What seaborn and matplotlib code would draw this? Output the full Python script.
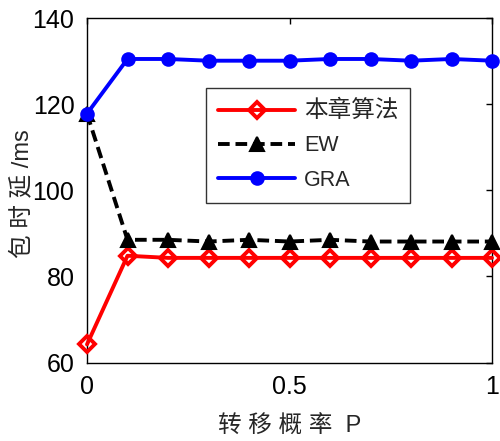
import matplotlib
matplotlib.use("Agg")
import matplotlib.pyplot as plt
import seaborn as sns
import pandas as pd

# Transfer probability P and packet delay (ms) for each scheme
p_values = [0.0, 0.1, 0.2, 0.3, 0.4, 0.5, 0.6, 0.7, 0.8, 0.9, 1.0]
delay_ours = [64.2, 84.8, 84.3, 84.3, 84.3, 84.3, 84.3, 84.3, 84.3, 84.3, 84.3]
delay_ew = [117.8, 88.5, 88.5, 88.1, 88.5, 88.1, 88.5, 88.1, 88.1, 88.1, 88.1]
delay_gra = [117.8, 130.5, 130.5, 130.1, 130.1, 130.1, 130.5, 130.5, 130.1, 130.5, 130.1]

series_names = ["本章算法", "EW", "GRA"]
x_ticks = [0, 0.5, 1]
x_tick_labels = ["0", "0.5", "1"]
y_ticks = [60, 80, 100, 120, 140]

sns.set_theme(style="white")
mixed = ["Liberation Sans", "Noto Sans CJK SC", "DejaVu Sans"]
plt.rcParams["font.family"] = mixed

df = pd.DataFrame({
    "P": p_values * 3,
    "delay": delay_ours + delay_ew + delay_gra,
    "method": [series_names[0]] * len(p_values)
    + [series_names[1]] * len(p_values)
    + [series_names[2]] * len(p_values),
})

fig = plt.figure(figsize=(5.0, 4.41), dpi=100)
ax = fig.add_axes([0.174, 0.178, 0.810, 0.781])

styles = {
    series_names[0]: dict(color="#ff0000", marker="D", ls="-", mfc="none", ms=8.5, mew=2.8),
    series_names[1]: dict(color="#000000", marker="^", ls=(0, (3.0, 1.5)), mfc="#000000", ms=10, mew=1.5),
    series_names[2]: dict(color="#0000ff", marker="o", ls="-", mfc="#0000ff", ms=9, mew=1.5),
}

for name in series_names:
    st = styles[name]
    sub = df[df["method"] == name]
    sns.lineplot(
        data=sub, x="P", y="delay", ax=ax, label=name,
        color=st["color"], linestyle=st["ls"], linewidth=2.8,
        marker=st["marker"], markersize=st["ms"],
        markerfacecolor=st["mfc"], markeredgecolor=st["color"],
        markeredgewidth=st["mew"], clip_on=False, zorder=3,
    )

ax.set_xlim(0, 1)
ax.set_ylim(60, 140)
ax.set_xticks(x_ticks)
ax.set_xticklabels(x_tick_labels)
ax.set_yticks(y_ticks)

for side in ["left", "right", "top", "bottom"]:
    ax.spines[side].set_visible(True)
    ax.spines[side].set_color("black")
    ax.spines[side].set_linewidth(1.0)

ax.tick_params(axis="both", which="major", direction="in", length=4, width=1,
               labelsize=18, colors="black", top=True, right=True, pad=9)

ax.set_xlabel("转 移 概 率  P", fontsize=17, family=mixed, fontweight="light", labelpad=12)
ax.set_ylabel("包 时 延 /ms", fontsize=17, family=mixed, fontweight="light")
ax.yaxis.set_label_coords(-0.132, 0.49)

leg = ax.legend(loc="upper left", bbox_to_anchor=(0.294, 0.797), borderaxespad=0,
                frameon=True, fancybox=False, edgecolor="black",
                handlelength=3.6, handletextpad=0.4, borderpad=0.55, labelspacing=0.62,
                prop={"family": mixed, "size": 15.5})
leg.get_frame().set_linewidth(1.0)
leg.get_texts()[0].set_fontsize(17)
leg.get_texts()[0].set_fontweight("light")

fig.savefig("out.png", dpi=100, facecolor="white")
